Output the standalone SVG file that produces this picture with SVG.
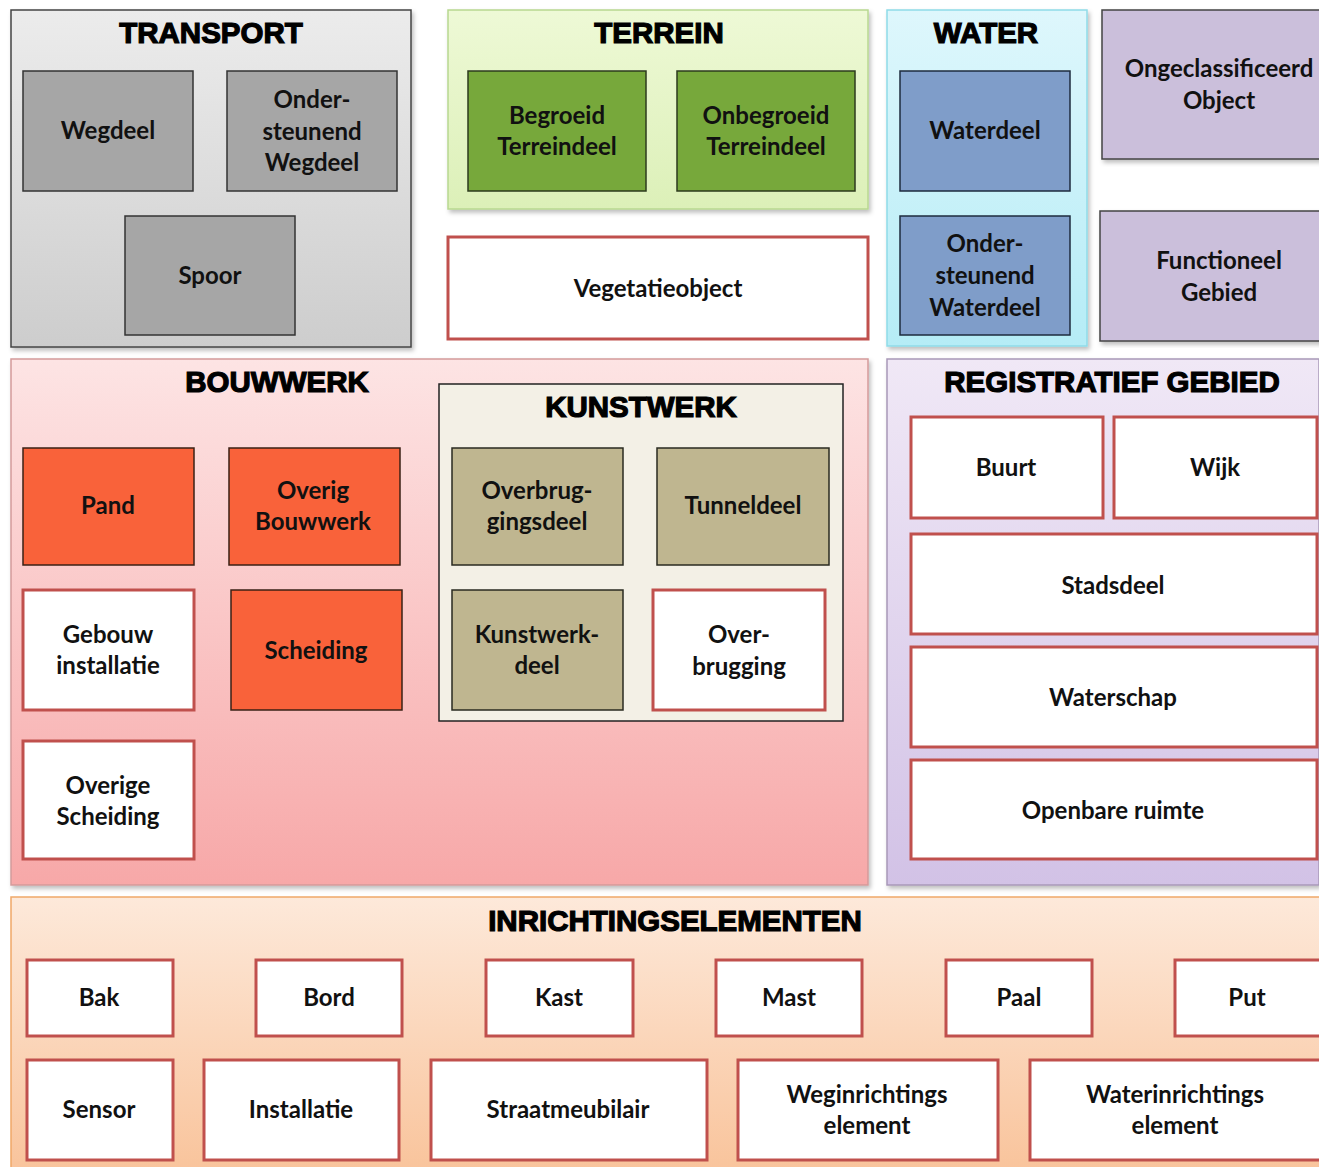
<svg xmlns="http://www.w3.org/2000/svg" width="1319" height="1167" viewBox="0 0 1319 1167">
<defs>
<linearGradient id="gGray" x1="0" y1="0" x2="0" y2="1"><stop offset="0" stop-color="#ececec"/><stop offset="1" stop-color="#cdcdcd"/></linearGradient>
<linearGradient id="gGreen" x1="0" y1="0" x2="0" y2="1"><stop offset="0" stop-color="#eef9d6"/><stop offset="1" stop-color="#dcf0b8"/></linearGradient>
<linearGradient id="gCyan" x1="0" y1="0" x2="0" y2="1"><stop offset="0" stop-color="#def7fc"/><stop offset="1" stop-color="#b5ecf6"/></linearGradient>
<linearGradient id="gPink" x1="0" y1="0" x2="0" y2="1"><stop offset="0" stop-color="#fde4e4"/><stop offset="1" stop-color="#f7a8a8"/></linearGradient>
<linearGradient id="gLav" x1="0" y1="0" x2="0" y2="1"><stop offset="0" stop-color="#f0e8f6"/><stop offset="1" stop-color="#d2c2e6"/></linearGradient>
<linearGradient id="gPeach" x1="0" y1="0" x2="0" y2="1"><stop offset="0" stop-color="#fde9da"/><stop offset="1" stop-color="#f9c49c"/></linearGradient>
<filter id="sh" x="-5%" y="-5%" width="110%" height="110%"><feDropShadow dx="2" dy="3" stdDeviation="2" flood-color="#000" flood-opacity="0.25"/></filter>
</defs>
<style>
.title{font-family:"Liberation Sans",Arial,sans-serif;font-weight:bold;font-size:29.5px;fill:#000;stroke:#000;stroke-width:1.2;text-anchor:middle}
.lbl{font-family:Lato,"Liberation Sans",sans-serif;font-weight:bold;font-size:24px;fill:#111;text-anchor:middle}
.red{fill:#fff;stroke:#c0504d;stroke-width:3}
.gray{fill:#a6a6a6;stroke:#333;stroke-width:1.5}
.green{fill:#77a83b;stroke:#2d3a1e;stroke-width:1.5}
.blue{fill:#7f9dc9;stroke:#1e2b3e;stroke-width:1.5}
.lav{fill:#cbbfdb;stroke:#444;stroke-width:1.5}
.orange{fill:#f9623a;stroke:#3a2015;stroke-width:1.5}
.khaki{fill:#bfb690;stroke:#2a2a20;stroke-width:1.5}
</style>
<rect width="1319" height="1167" fill="#fff"/>

<g id="panel-transport">
<rect x="11" y="10" width="400" height="337" fill="url(#gGray)" stroke="#444" stroke-width="1.5" filter="url(#sh)"/>
<text class="title" x="211" y="43">TRANSPORT</text>
</g>
<g id="panel-terrein">
<rect x="448" y="10" width="420" height="199" fill="url(#gGreen)" stroke="#b8d890" stroke-width="1.5" filter="url(#sh)"/>
<text class="title" x="659" y="43">TERREIN</text>
</g>
<g id="panel-water">
<rect x="887" y="10" width="200" height="336" fill="url(#gCyan)" stroke="#8fdbe8" stroke-width="1.5" filter="url(#sh)"/>
<text class="title" x="986" y="43">WATER</text>
</g>
<g id="panel-bouwwerk">
<rect x="11" y="359" width="857" height="526" fill="url(#gPink)" stroke="#d49a9a" stroke-width="1.5" filter="url(#sh)"/>
<text class="title" x="277" y="392">BOUWWERK</text>
</g>
<g id="panel-kunstwerk">
<rect x="439" y="384" width="404" height="337" fill="#f3f0e6" stroke="#222" stroke-width="1.5"/>
<text class="title" x="641" y="417">KUNSTWERK</text>
</g>
<g id="panel-registratief">
<rect x="887" y="359" width="432" height="526" fill="url(#gLav)" stroke="#a898b8" stroke-width="1.5" filter="url(#sh)"/>
<text class="title" x="1112" y="392">REGISTRATIEF GEBIED</text>
</g>
<g id="panel-inrichting">
<rect x="11" y="897" width="1310" height="272" fill="url(#gPeach)" stroke="#f0a868" stroke-width="1.5"/>
<text class="title" x="675" y="931">INRICHTINGSELEMENTEN</text>
</g>

<g id="connectors"></g>

<g id="wegdeel"><rect class="gray" x="23" y="71" width="170" height="120"/><text class="lbl" x="108" y="139">Wegdeel</text></g>
<g id="ondersteunend-wegdeel"><rect class="gray" x="227" y="71" width="170" height="120"/><text class="lbl" x="312" y="108">Onder-</text><text class="lbl" x="312" y="140">steunend</text><text class="lbl" x="312" y="171">Wegdeel</text></g>
<g id="spoor"><rect class="gray" x="125" y="216" width="170" height="119"/><text class="lbl" x="210" y="284">Spoor</text></g>

<g id="begroeid"><rect class="green" x="468" y="71" width="178" height="120"/><text class="lbl" x="557" y="124">Begroeid</text><text class="lbl" x="557" y="155">Terreindeel</text></g>
<g id="onbegroeid"><rect class="green" x="677" y="71" width="178" height="120"/><text class="lbl" x="766" y="124">Onbegroeid</text><text class="lbl" x="766" y="155">Terreindeel</text></g>
<g id="vegetatieobject"><rect class="red" x="448" y="237" width="420" height="102"/><text class="lbl" x="658" y="297">Vegetatieobject</text></g>

<g id="waterdeel"><rect class="blue" x="900" y="71" width="170" height="120"/><text class="lbl" x="985" y="139">Waterdeel</text></g>
<g id="ondersteunend-waterdeel"><rect class="blue" x="900" y="216" width="170" height="119"/><text class="lbl" x="985" y="252">Onder-</text><text class="lbl" x="985" y="284">steunend</text><text class="lbl" x="985" y="316">Waterdeel</text></g>

<g id="ongeclassificeerd"><rect class="lav" x="1102" y="10" width="222" height="149" filter="url(#sh)"/><text class="lbl" x="1219" y="77">Ongeclassificeerd</text><text class="lbl" x="1219" y="109">Object</text></g>
<g id="functioneel-gebied"><rect class="lav" x="1100" y="211" width="224" height="130" filter="url(#sh)"/><text class="lbl" x="1219" y="269">Functioneel</text><text class="lbl" x="1219" y="301">Gebied</text></g>

<g id="pand"><rect class="orange" x="23" y="448" width="171" height="117"/><text class="lbl" x="108" y="514">Pand</text></g>
<g id="overig-bouwwerk"><rect class="orange" x="229" y="448" width="171" height="117"/><text class="lbl" x="313" y="499">Overig</text><text class="lbl" x="313" y="530">Bouwwerk</text></g>
<g id="gebouw-installatie"><rect class="red" x="23" y="590" width="171" height="120"/><text class="lbl" x="108" y="643">Gebouw</text><text class="lbl" x="108" y="674">installatie</text></g>
<g id="scheiding"><rect class="orange" x="231" y="590" width="171" height="120"/><text class="lbl" x="316" y="659">Scheiding</text></g>
<g id="overige-scheiding"><rect class="red" x="23" y="741" width="171" height="118"/><text class="lbl" x="108" y="794">Overige</text><text class="lbl" x="108" y="825">Scheiding</text></g>

<g id="overbruggingsdeel"><rect class="khaki" x="452" y="448" width="171" height="117"/><text class="lbl" x="537" y="499">Overbrug-</text><text class="lbl" x="537" y="530">gingsdeel</text></g>
<g id="tunneldeel"><rect class="khaki" x="657" y="448" width="172" height="117"/><text class="lbl" x="743" y="514">Tunneldeel</text></g>
<g id="kunstwerkdeel"><rect class="khaki" x="452" y="590" width="171" height="120"/><text class="lbl" x="537" y="643">Kunstwerk-</text><text class="lbl" x="537" y="674">deel</text></g>
<g id="overbrugging"><rect class="red" x="653" y="590" width="172" height="120"/><text class="lbl" x="739" y="643">Over-</text><text class="lbl" x="739" y="675">brugging</text></g>

<g id="buurt"><rect class="red" x="911" y="417" width="192" height="101"/><text class="lbl" x="1006" y="476">Buurt</text></g>
<g id="wijk"><rect class="red" x="1114" y="417" width="203" height="101"/><text class="lbl" x="1215" y="476">Wijk</text></g>
<g id="stadsdeel"><rect class="red" x="911" y="534" width="406" height="100"/><text class="lbl" x="1113" y="594">Stadsdeel</text></g>
<g id="waterschap"><rect class="red" x="911" y="647" width="406" height="100"/><text class="lbl" x="1113" y="706">Waterschap</text></g>
<g id="openbare-ruimte"><rect class="red" x="911" y="760" width="406" height="99"/><text class="lbl" x="1113" y="819">Openbare ruimte</text></g>

<g id="bak"><rect class="red" x="27" y="960" width="146" height="76"/><text class="lbl" x="99" y="1006">Bak</text></g>
<g id="bord"><rect class="red" x="256" y="960" width="146" height="76"/><text class="lbl" x="329" y="1006">Bord</text></g>
<g id="kast"><rect class="red" x="486" y="960" width="147" height="76"/><text class="lbl" x="559" y="1006">Kast</text></g>
<g id="mast"><rect class="red" x="716" y="960" width="146" height="76"/><text class="lbl" x="789" y="1006">Mast</text></g>
<g id="paal"><rect class="red" x="946" y="960" width="146" height="76"/><text class="lbl" x="1019" y="1006">Paal</text></g>
<g id="put"><rect class="red" x="1175" y="960" width="150" height="76"/><text class="lbl" x="1247" y="1006">Put</text></g>
<g id="sensor"><rect class="red" x="27" y="1060" width="146" height="100"/><text class="lbl" x="99" y="1118">Sensor</text></g>
<g id="installatie"><rect class="red" x="204" y="1060" width="195" height="100"/><text class="lbl" x="301" y="1118">Installatie</text></g>
<g id="straatmeubilair"><rect class="red" x="431" y="1060" width="276" height="100"/><text class="lbl" x="568" y="1118">Straatmeubilair</text></g>
<g id="weginrichtingselement"><rect class="red" x="738" y="1060" width="260" height="100"/><text class="lbl" x="867" y="1103">Weginrichtings</text><text class="lbl" x="867" y="1134">element</text></g>
<g id="waterinrichtingselement"><rect class="red" x="1030" y="1060" width="295" height="100"/><text class="lbl" x="1175" y="1103">Waterinrichtings</text><text class="lbl" x="1175" y="1134">element</text></g>
</svg>
